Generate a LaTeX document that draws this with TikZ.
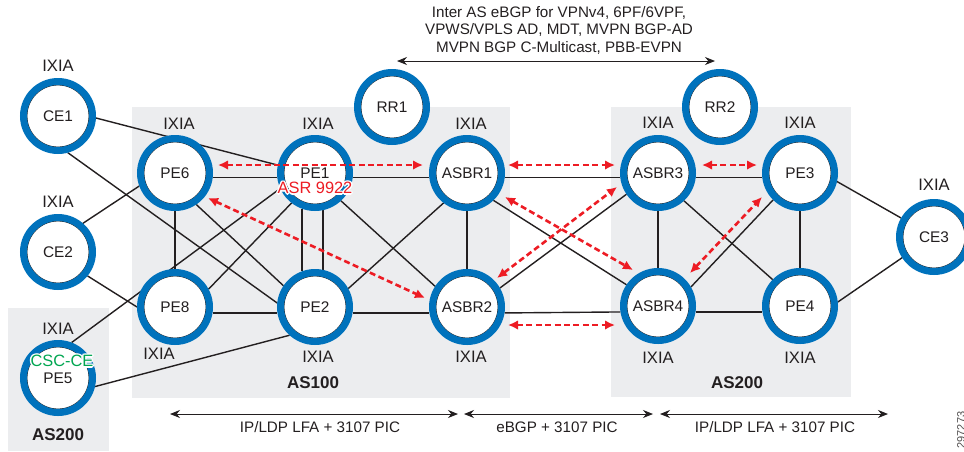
\documentclass[tikz,border=0pt]{standalone}
\usepackage{fontspec}
\setmainfont{Liberation Sans}
\usetikzlibrary{arrows.meta,calc,backgrounds}

\definecolor{ringblue}{RGB}{0,114,188}
\definecolor{asgray}{RGB}{236,237,239}
\definecolor{lspred}{RGB}{237,28,36}
\definecolor{cscgreen}{RGB}{0,166,81}
\definecolor{inkgray}{RGB}{35,31,32}

\tikzset{
  router/.style={circle, fill=white, draw=ringblue, line width=3.5pt, minimum size=34.5pt, inner sep=0pt,
    text=inkgray, font=\fontsize{7.7}{9}\selectfont,
    path picture={\draw[inkgray, line width=0.4pt] (path picture bounding box.center) circle (15.5pt);}},
  ixia/.style={text=inkgray, font=\fontsize{8.3}{10}\selectfont},
  tag/.style={font=\fontsize{8.2}{10}\selectfont},
  asname/.style={text=inkgray, font=\bfseries\fontsize{8.5}{10}\selectfont},
  asbox/.style={fill=asgray, draw=none},
  link/.style={inkgray, line width=0.7pt},
  lsp/.style={lspred, line width=1.3pt, dash pattern=on 3pt off 1.7pt,
    {Latex[length=5pt,width=4.8pt]}-{Latex[length=5pt,width=4.8pt]}},
  span/.style={inkgray, line width=0.5pt, {Stealth[length=5pt,width=4pt]}-{Stealth[length=5pt,width=4pt]}},
  note/.style={text=inkgray, font=\fontsize{7.6}{8.75}\selectfont, align=center},
}

\begin{document}
\begin{tikzpicture}[x=0.5pt, y=-0.5pt]
	\useasboundingbox (0,0) rectangle (964,451);

	% Draw the routers
	\node[router] (CE1) at (58,116) {CE1};
	\node[router] (CE2) at (58,252) {CE2};
	\node[router] (PE5) at (58,378) {PE5};
	\node[router] (PE6) at (175,173) {PE6};
	\node[router] (PE1) at (315,173) {PE1};
	\node[router] (ASBR1) at (467,173) {ASBR1};
	\node[router] (PE8) at (175,307) {PE8};
	\node[router] (PE2) at (315,307) {PE2};
	\node[router] (ASBR2) at (467,307) {ASBR2};
	\node[router] (RR1) at (392,107) {RR1};
	\node[router] (ASBR3) at (658,173) {ASBR3};
	\node[router] (PE3) at (800,173) {PE3};
	\node[router] (ASBR4) at (658,306) {ASBR4};
	\node[router] (PE4) at (800,306) {PE4};
	\node[router] (RR2) at (720,107) {RR2};
	\node[router] (CE3) at (934,237) {CE3};

	% Draw the IXIA labels
	\node[ixia] (ixCE1) at (58,66) {IXIA};
	\node[ixia] (ixCE2) at (58,202) {IXIA};
	\node[ixia] (ixPE5) at (58,329) {IXIA};
	\node[ixia] (ixPE6) at (179,124) {IXIA};
	\node[ixia] (ixPE1) at (318,124) {IXIA};
	\node[ixia] (ixASBR1) at (471,124) {IXIA};
	\node[ixia] (ixPE8) at (159,354) {IXIA};
	\node[ixia] (ixPE2) at (318,357) {IXIA};
	\node[ixia] (ixASBR2) at (471,357) {IXIA};
	\node[ixia] (ixASBR3) at (658,123) {IXIA};
	\node[ixia] (ixPE3) at (800,123) {IXIA};
	\node[ixia] (ixCE3) at (934,185) {IXIA};
	\node[ixia] (ixASBR4) at (658,358) {IXIA};
	\node[ixia] (ixPE4) at (800,358) {IXIA};

	% White halo under the platform tags
	\foreach \dx/\dy [count=\i] in {-1.5/0, 1.5/0, 0/-1.5, 0/1.5, -1/-1, 1/-1, -1/1, 1/1} {
		\node[tag, text=white] (asrhalo\i) at ($(315,188)+(\dx,\dy)$) {ASR 9922};
		\node[tag, text=white] (cschalo\i) at ($(62,361)+(\dx,\dy)$) {CSC-CE};
	}
	\node[tag, text=lspred] (asr) at (315,188) {ASR 9922};
	\node[tag, text=cscgreen] (csc) at (62,361) {CSC-CE};

	% Draw the AS names
	\node[asname] (as100) at (313,383) {AS100};
	\node[asname] (as200) at (737,383) {AS200};
	\node[asname] (as200b) at (58,435) {AS200};

	\begin{scope}[on background layer]
		% Draw the AS boxes
		\fill[asbox] (132,107) rectangle (510,398);
		\fill[asbox] (611,107) rectangle (851,397);
		\fill[asbox] (8,308) rectangle (109,451);

		% Draw the links into AS100
		\draw[link] (CE1.-3) -- (PE1.168);
		\draw[link] (CE1.-75) -- (PE2.174);
		\draw[link] (CE2.49) -- (PE6.200);
		\draw[link] (CE2.-39) -- (PE8.180);
		\draw[link] (PE5.69) -- (PE1.204);
		\draw[link] (PE5.-13) -- (PE2.228);

		% Draw the links inside AS100
		\draw[link] (PE6.-7) -- (PE1.187);
		\draw[link] (PE1.-7) -- (ASBR1.187);
		\draw[link] (PE8.-9) -- (PE2.189);
		\draw[link] (PE2.-9) -- (ASBR2.189);
		\draw[link] (PE6) -- (PE8);
		\draw[link] (PE1.-110) -- (PE2.110);
		\draw[link] (PE1.-78) -- (PE2.78);
		\draw[link] (ASBR1) -- (ASBR2);
		\draw[link] (PE6.-56) -- (PE2.146);
		\draw[link] (PE8.28) -- (PE1.232);
		\draw[link] (PE1.-47) -- (ASBR2.147);
		\draw[link] (PE2.29) -- (ASBR1.232);

		% Draw the links between the AS
		\draw[link] (ASBR1.-7) -- (ASBR3.187);
		\draw[link] (ASBR2.-9) -- (ASBR4.189);
		\draw[link] (ASBR1.-46) -- (ASBR4.146);
		\draw[link] (ASBR2.30) -- (ASBR3.214);

		% Draw the links inside AS200
		\draw[link] (ASBR3.-7) -- (PE3.187);
		\draw[link] (ASBR4.-9) -- (PE4.189);
		\draw[link] (ASBR3) -- (ASBR4);
		\draw[link] (PE3) -- (PE4);
		\draw[link] (ASBR3.-47) -- (PE4.136);
		\draw[link] (ASBR4.30) -- (PE3.225);
		\draw[link] (PE3.-13) -- (CE3.150);
		\draw[link] (PE4.6) -- (CE3.213);
	\end{scope}

	% Draw the red dashed sessions
	\draw[lsp] ($(PE6)+(43,-8)$) -- ($(ASBR1)+(-44,-8)$);
	\draw[lsp] ($(PE6)+(33,25)$) -- ($(ASBR2)+(-42,-9)$);
	\draw[lsp] ($(ASBR1)+(41,-8)$) -- ($(ASBR3)+(-43,-8)$);
	\draw[lsp] ($(ASBR1)+(38,24)$) -- ($(ASBR4)+(-25,-36)$);
	\draw[lsp] ($(ASBR2)+(30,-29)$) -- ($(ASBR3)+(-41,14)$);
	\draw[lsp] ($(ASBR2)+(41,18)$) -- ($(ASBR4)+(-43,19)$);
	\draw[lsp] ($(ASBR3)+(44,-8)$) -- ($(PE3)+(-43,-8)$);
	\draw[lsp] ($(ASBR4)+(32,-33)$) -- ($(PE3)+(-38,24)$);

	% Draw the spans with their notes
	\node[note] (interas) at (559,30) {Inter AS eBGP for VPNv4, 6PF/6VPF,\\VPWS/VPLS AD, MDT, MVPN BGP-AD\\MVPN BGP C-Multicast, PBB-EVPN};
	\coordinate (topL) at (397,61);
	\coordinate (topR) at (715,61);
	\draw[span] (topL) -- (topR);

	\coordinate (lfaL) at (170,414);
	\coordinate (lfaR) at (458,414);
	\coordinate (ebgpL) at (464,414);
	\coordinate (ebgpR) at (653,414);
	\coordinate (lfbL) at (660,414);
	\coordinate (lfbR) at (888,414);
	\draw[span] (lfaL) -- (lfaR);
	\draw[span] (ebgpL) -- (ebgpR);
	\draw[span] (lfbL) -- (lfbR);
	\node[note] (lfanote) at (320,427) {IP/LDP LFA + 3107 PIC};
	\node[note] (ebgpnote) at (557,427) {eBGP + 3107 PIC};
	\node[note] (lfbnote) at (775,427) {IP/LDP LFA + 3107 PIC};

	\node[rotate=90, text=inkgray!80, font=\fontsize{5.5}{6}\selectfont] (figid) at (961,430) {297273};
\end{tikzpicture}
\end{document}
